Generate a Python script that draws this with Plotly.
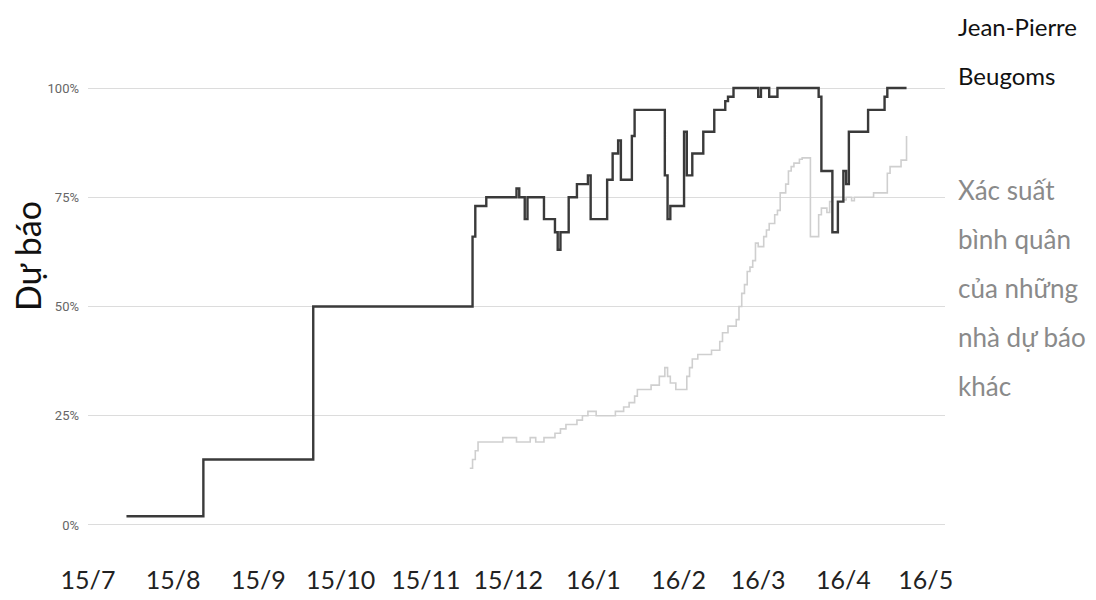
import plotly.graph_objects as go

# Jean-Pierre Beugoms forecast (step changes)
jp_dates = ["2015-07-15", "2015-08-12", "2015-09-21", "2015-11-18", "2015-11-19", "2015-11-23",
            "2015-12-04", "2015-12-05", "2015-12-07", "2015-12-08", "2015-12-14", "2015-12-18",
            "2015-12-19", "2015-12-20", "2015-12-23", "2015-12-26", "2015-12-30", "2015-12-31",
            "2016-01-06", "2016-01-08", "2016-01-10", "2016-01-11", "2016-01-15", "2016-01-16",
            "2016-01-27", "2016-01-28", "2016-01-29", "2016-02-03", "2016-02-04", "2016-02-06",
            "2016-02-10", "2016-02-14", "2016-02-18", "2016-02-19", "2016-02-21", "2016-03-01",
            "2016-03-02", "2016-03-05", "2016-03-08", "2016-03-23", "2016-03-24", "2016-03-28",
            "2016-03-30", "2016-04-01", "2016-04-02", "2016-04-03", "2016-04-10", "2016-04-16",
            "2016-04-17", "2016-04-24"]
jp_values = [2, 15, 50, 66, 73, 75,
             77, 75, 70, 75, 70, 67,
             63, 67, 75, 78, 80, 70,
             79, 85, 88, 79, 89, 95,
             80, 70, 73, 90, 80, 85,
             90, 95, 97, 98, 100, 98,
             100, 98, 100, 98, 81, 67,
             74, 81, 78, 90, 95, 98,
             100, 100]

# Average probability of other forecasters
avg_dates = ["2015-11-17", "2015-11-18", "2015-11-19", "2015-11-20", "2015-11-29", "2015-12-04",
             "2015-12-09", "2015-12-11", "2015-12-14", "2015-12-18", "2015-12-20", "2015-12-22",
             "2015-12-26", "2015-12-28", "2015-12-30", "2016-01-02", "2016-01-09", "2016-01-12",
             "2016-01-14", "2016-01-16", "2016-01-17", "2016-01-22", "2016-01-25", "2016-01-27",
             "2016-01-28", "2016-01-29", "2016-01-31", "2016-02-04", "2016-02-05", "2016-02-06",
             "2016-02-08", "2016-02-13", "2016-02-16", "2016-02-17", "2016-02-19", "2016-02-22",
             "2016-02-23", "2016-02-24", "2016-02-25", "2016-02-26", "2016-02-27", "2016-02-28",
             "2016-02-29", "2016-03-01", "2016-03-03", "2016-03-04", "2016-03-05", "2016-03-07",
             "2016-03-08", "2016-03-09", "2016-03-11", "2016-03-12", "2016-03-13", "2016-03-14",
             "2016-03-16", "2016-03-17", "2016-03-20", "2016-03-23", "2016-03-24", "2016-03-26",
             "2016-03-27", "2016-03-28", "2016-04-01", "2016-04-02", "2016-04-04", "2016-04-05",
             "2016-04-12", "2016-04-17", "2016-04-18", "2016-04-22", "2016-04-24"]
avg_values = [13, 15, 17, 19, 20, 19,
              20, 19, 20, 21, 22, 23,
              24, 25, 26, 25, 26, 27,
              28, 29.5, 31, 32, 34, 36,
              34, 32.5, 31, 34, 36, 38,
              39, 40, 42, 44, 45.5, 47,
              50, 53, 55, 58, 59, 60.5,
              64.5, 63.7, 66, 67.5, 69, 71,
              72, 76, 78, 81, 82, 82.8,
              83.7, 84, 66, 71, 72.5, 71.5,
              74, 75, 74.4, 75, 74.2, 75,
              76, 80.5, 82, 83.5, 89]

y_ticks = [0, 25, 50, 75, 100]
y_tick_labels = ["0%", "25%", "50%", "75%", "100%"]
x_ticks = ["2015-07-01", "2015-08-01", "2015-09-01", "2015-10-01", "2015-11-01", "2015-12-01",
           "2016-01-01", "2016-02-01", "2016-03-01", "2016-04-01", "2016-05-01"]
x_tick_labels = ["15/7", "15/8", "15/9", "15/10", "15/11", "15/12",
                 "16/1", "16/2", "16/3", "16/4", "16/5"]

y_title = "Dự báo"
jp_label_lines = ["Jean-Pierre", "Beugoms"]
avg_label_lines = ["Xác suất", "bình quân", "của những", "nhà dự báo", "khác"]

FONT = "Lato, Roboto, sans-serif"

fig = go.Figure()
fig.add_trace(go.Scatter(x=avg_dates, y=avg_values, mode="lines", line_shape="hv",
                         line=dict(color="#cfcfcf", width=1.6), name="avg", hoverinfo="skip"))
fig.add_trace(go.Scatter(x=jp_dates, y=jp_values, mode="lines", line_shape="hv",
                         line=dict(color="#3a3a3a", width=2.4), name="jp"))

# page offset of the figure inside the browser page (body margin)
OFF = 8
W, H = 1096, 600
L, R, T, B = 88 - OFF, W - (945 - OFF), 70 - OFF, H - (545 - OFF)
fig.update_layout(
    width=W, height=H,
    margin=dict(l=L, r=R, t=T, b=B, autoexpand=False),
    paper_bgcolor="white", plot_bgcolor="white",
    showlegend=False,
    font=dict(family=FONT),
    xaxis=dict(
        type="date", range=["2015-07-01", "2016-05-08"],
        tickvals=x_ticks, ticktext=x_tick_labels, tickangle=0,
        showgrid=False, zeroline=False, showline=False, ticks="",
        tickfont=dict(family=FONT, size=25, color="#222222"),
        ticklabelstandoff=18, automargin=False,
    ),
    yaxis=dict(
        range=[-4.58, 104.12],
        tickvals=y_ticks, ticktext=y_tick_labels,
        showgrid=True, gridcolor="#dcdcdc", gridwidth=1,
        zeroline=False, showline=False, ticks="",
        tickfont=dict(family="Roboto, sans-serif", size=13, color="#666666"),
        ticklabelstandoff=8, automargin=False,
    ),
)

plot_w = W - L - R
plot_h = H - T - B

def px_to_paper_x(px):
    return (px - OFF - L) / plot_w

def px_to_paper_y(py):
    return (H - B - (py - OFF)) / plot_h

fig.add_annotation(text=y_title, textangle=-90, xref="paper", yref="paper",
                   x=px_to_paper_x(27), y=px_to_paper_y(256), xanchor="center", yanchor="middle",
                   showarrow=False, font=dict(family=FONT, size=34, color="#111111"))

for i, line in enumerate(jp_label_lines):
    fig.add_annotation(text=line, xref="paper", yref="paper",
                       x=px_to_paper_x(956), y=px_to_paper_y(27 + 48 * i),
                       xanchor="left", yanchor="middle", showarrow=False,
                       font=dict(family=FONT, size=24, color="#111111"))

for i, line in enumerate(avg_label_lines):
    fig.add_annotation(text=line, xref="paper", yref="paper",
                       x=px_to_paper_x(956), y=px_to_paper_y(190 + 49 * i),
                       xanchor="left", yanchor="middle", showarrow=False,
                       font=dict(family=FONT, size=26, color="#8a8a8a"))

fig.write_html("out.html")
